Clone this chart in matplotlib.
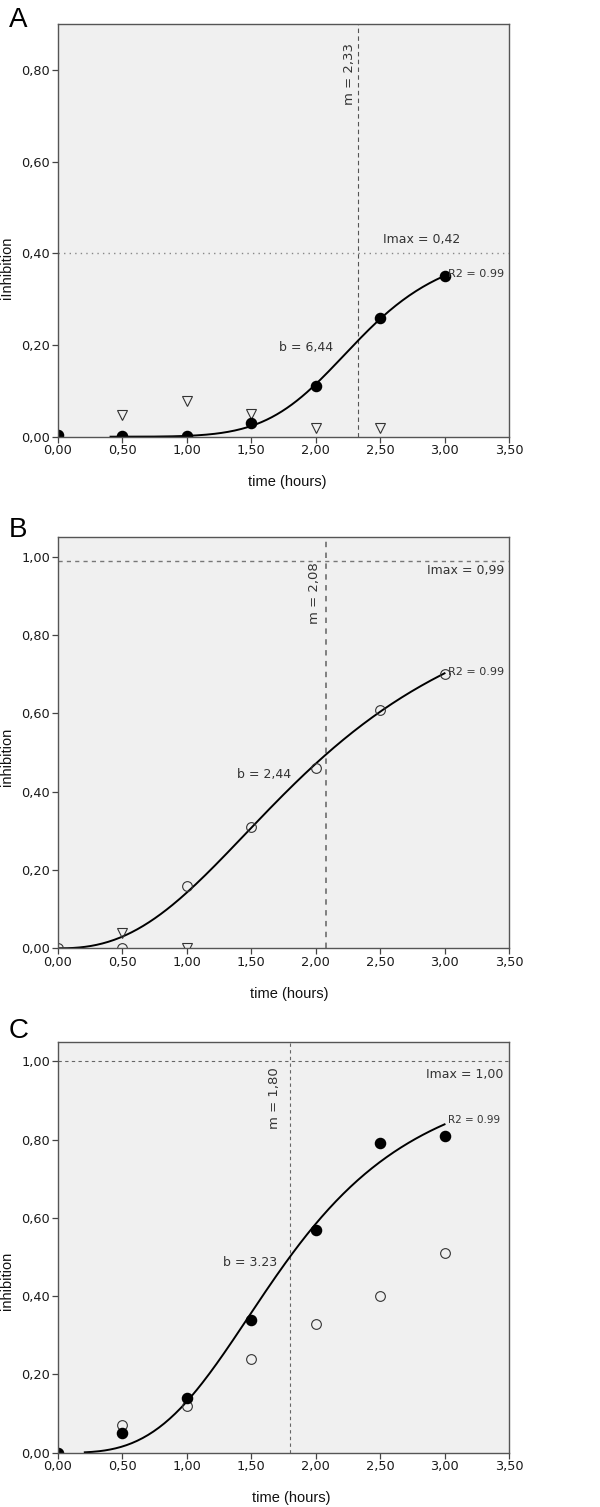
import numpy as np
import matplotlib
matplotlib.use("Agg")
import matplotlib.pyplot as plt
from matplotlib.ticker import FuncFormatter

# ---------------- data ----------------
time = [0.0, 0.5, 1.0, 1.5, 2.0, 2.5, 3.0]

# Panel A
a_filled = [0.003, 0.002, 0.002, 0.03, 0.11, 0.26, 0.35]
a_tri_t = [0.5, 1.0, 1.5, 2.0, 2.5]
a_tri = [0.047, 0.078, 0.049, 0.018, 0.018]
a_imax, a_m, a_b = 0.42, 2.33, 6.44
a_imax_line = 0.40

# Panel B
b_open = [0.0, 0.0, 0.16, 0.31, 0.46, 0.61, 0.70]
b_tri_t = [0.5, 1.0]
b_tri = [0.04, 0.0]
b_imax, b_m, b_b = 0.99, 2.08, 2.44

# Panel C
c_filled = [0.0, 0.05, 0.14, 0.34, 0.57, 0.79, 0.81]
c_open_t = [0.5, 1.0, 1.5, 2.0, 2.5, 3.0]
c_open = [0.07, 0.12, 0.24, 0.33, 0.40, 0.51]
c_imax, c_m, c_b = 1.00, 1.80, 3.23

xticks = [0.0, 0.5, 1.0, 1.5, 2.0, 2.5, 3.0, 3.5]


def hill(t, imax, m, b):
    t = np.asarray(t)
    return imax * t ** b / (m ** b + t ** b)


W, H = 600, 1507
fig = plt.figure(figsize=(W / 100, H / 100), dpi=100)

def px_axes(top, bottom, left=57.7, right=509.0):
    return fig.add_axes([left / W, 1 - bottom / H, (right - left) / W, (bottom - top) / H])

comma = FuncFormatter(lambda v, p: f"{v:.2f}".replace(".", ","))
ANN = dict(family="DejaVu Sans", color="#333333")
LABF = dict(family="Liberation Sans", size=10.5, color="#111111")


def style(ax, ymax, yticks, ylabel, ylab_y, xlab_x):
    ax.set_facecolor("#f0f0f0")
    ax.set_xlim(0, 3.5)
    ax.set_ylim(0, ymax)
    ax.set_xticks(xticks)
    ax.set_yticks(yticks)
    ax.xaxis.set_major_formatter(comma)
    ax.yaxis.set_major_formatter(comma)
    for lab in ax.get_xticklabels() + ax.get_yticklabels():
        lab.set_fontfamily("DejaVu Sans")
        lab.set_fontsize(9.3)
        lab.set_color("#1a1a1a")
    ax.tick_params(direction="out", length=4, width=0.9, color="#444444", pad=1.5)
    for s in ax.spines.values():
        s.set_color("#555555")
        s.set_linewidth(1.0)
    ax.set_xlabel("time (hours)", **LABF)
    ax.xaxis.set_label_coords(xlab_x, -0.093)
    ax.set_ylabel(ylabel, **LABF)
    ax.yaxis.set_label_coords(-0.097, ylab_y)


# ---------------- Panel A ----------------
axA = px_axes(24.3, 436.7)
style(axA, 0.9, [0.0, 0.2, 0.4, 0.6, 0.8], "iInhibition", 0.409, 0.508)
axA.axvline(a_m, color="#555555", lw=0.8, ls=(0, (4, 3)))
axA.axhline(a_imax_line, color="#888888", lw=1.0, ls=(0, (1, 3)))
tA = np.linspace(0.41, 3.0, 200)
axA.plot(tA, hill(tA, a_imax, a_m, a_b), color="black", lw=1.4)
axA.plot(a_tri_t, a_tri, ls="none", marker="v", ms=6.5, mfc="none", mec="#333333", mew=0.8)
axA.plot(time, a_filled, ls="none", marker="o", ms=7.3, mfc="black", mec="black")
axA.text(2.26, 0.86, "m = 2,33", rotation=90, ha="center", va="top", fontsize=9.5, **ANN)
axA.text(2.82, 0.43, "Imax = 0,42", ha="center", va="center", fontsize=9, **ANN)
axA.text(3.03, 0.355, "R2 = 0.99", ha="left", va="center", fontsize=8, **ANN)
axA.text(1.72, 0.195, "b = 6,44", ha="left", va="center", fontsize=9, **ANN)
fig.text(9 / W, 1 - 27 / H, "A", family="Liberation Sans", fontsize=20, ha="left", va="baseline")

# ---------------- Panel B ----------------
axB = px_axes(537.3, 948.3)
style(axB, 1.05, [0.0, 0.2, 0.4, 0.6, 0.8, 1.0], "inhibition", 0.465, 0.512)
axB.axvline(b_m, color="#777777", lw=1.3, ls=(0, (3, 3)))
axB.axhline(b_imax, color="#777777", lw=1.0, ls=(0, (3, 3)))
tB = np.linspace(0.0, 3.0, 200)
axB.plot(tB, hill(tB, b_imax, b_m, b_b), color="black", lw=1.4)
axB.plot(b_tri_t, b_tri, ls="none", marker="v", ms=6.5, mfc="none", mec="#333333", mew=0.8)
axB.plot(time, b_open, ls="none", marker="o", ms=7, mfc="none", mec="#333333", mew=0.8)
axB.text(1.99, 0.985, "m = 2,08", rotation=90, ha="center", va="top", fontsize=9.5, **ANN)
axB.text(3.46, 0.965, "Imax = 0,99", ha="right", va="center", fontsize=9, **ANN)
axB.text(3.03, 0.705, "R2 = 0.99", ha="left", va="center", fontsize=8, **ANN)
axB.text(1.39, 0.445, "b = 2,44", ha="left", va="center", fontsize=9, **ANN)
fig.text(9 / W, 1 - 537 / H, "B", family="Liberation Sans", fontsize=20, ha="left", va="baseline")

# ---------------- Panel C ----------------
axC = px_axes(1041.7, 1452.7)
style(axC, 1.05, [0.0, 0.2, 0.4, 0.6, 0.8, 1.0], "inhibition", 0.418, 0.518)
axC.axvline(c_m, color="#666666", lw=0.8, ls=(0, (3, 3)))
axC.axhline(c_imax, color="#666666", lw=0.8, ls=(0, (3, 3)))
tC = np.linspace(0.21, 3.0, 200)
axC.plot(tC, hill(tC, c_imax, c_m, c_b), color="black", lw=1.4)
axC.plot(c_open_t, c_open, ls="none", marker="o", ms=7, mfc="none", mec="#333333", mew=0.8)
axC.plot(time, c_filled, ls="none", marker="o", ms=7.3, mfc="black", mec="black")
axC.text(1.68, 0.985, "m = 1,80", rotation=90, ha="center", va="top", fontsize=9.5, **ANN)
axC.text(3.46, 0.965, "Imax = 1,00", ha="right", va="center", fontsize=9, **ANN)
axC.text(3.03, 0.85, "R2 = 0.99", ha="left", va="center", fontsize=7.5, **ANN)
axC.text(1.28, 0.485, "b = 3.23", ha="left", va="center", fontsize=9, **ANN)
fig.text(9 / W, 1 - 1038 / H, "C", family="Liberation Sans", fontsize=20, ha="left", va="baseline")

fig.savefig("out.png", dpi=100, facecolor="white")
